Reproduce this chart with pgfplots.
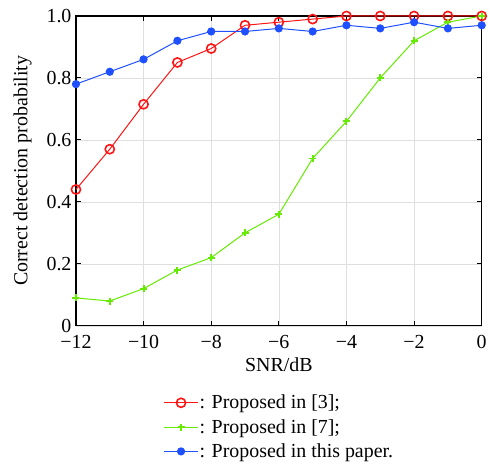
\documentclass[border=0pt]{standalone}
\usepackage{fontspec}
\setmainfont{Liberation Serif}
\usepackage{pgfplots}
\pgfplotsset{compat=1.18}
\definecolor{cred}{RGB}{255,20,20}
\definecolor{cgreen}{RGB}{100,235,0}
\definecolor{cblue}{RGB}{30,80,255}

\begin{document}
\begin{tikzpicture}
\begin{axis}[
    name=ax,
    scale only axis,
    width=406bp, height=310bp,
    xmin=-12, xmax=0, ymin=0, ymax=1,
    xtick={-12,-10,...,0},
    xticklabels={−12,−10,−8,−6,−4,−2,0},
    ytick={0,0.2,...,1.0},
    yticklabels={0,0.2,0.4,0.6,0.8,1.0},
    tick align=inside,
    major tick length=5bp,
    grid=major,
    grid style={gray!25, line width=0.6pt},
    axis line style={line width=1.2pt},
    tick style={black, line width=1pt},
    font=\fontsize{20}{24}\selectfont,
    tick label style={font=\fontsize{20}{24}\selectfont},
    yticklabel style={xshift=-1bp},
    xticklabel style={yshift=-6bp},
    xlabel={SNR/dB},
    ylabel={Correct detection probability},
    xlabel style={yshift=-2bp},
    ylabel style={yshift=8bp},
    legend style={at={(0.5,-0.22)}, anchor=north, draw=none, fill=none,
        cells={anchor=west}, row sep=7bp, inner sep=0pt,
        nodes={inner xsep=1pt, inner ysep=1pt},
        font=\fontsize{20}{24}\selectfont},
    legend image code/.code={\draw[mark repeat=2,mark phase=2]
        plot coordinates {(0cm,0cm)(0.6cm,0cm)(1.2cm,0cm)};},
]
\addplot[cred, line width=1pt, mark=o, mark size=4.6pt,
    mark options={line width=1.6pt}] coordinates {
    (-12,0.44) (-11,0.57) (-10,0.715) (-9,0.85) (-8,0.895) (-7,0.97)
    (-6,0.98) (-5,0.99) (-4,1) (-3,1) (-2,1) (-1,1) (0,1)
};
\addlegendentry{: Proposed in [3];}
\addplot[cgreen, line width=1pt, mark=+, mark size=3.5pt,
    mark options={line width=2pt}] coordinates {
    (-12,0.09) (-11,0.08) (-10,0.12) (-9,0.18) (-8,0.22) (-7,0.30)
    (-6,0.36) (-5,0.54) (-4,0.66) (-3,0.80) (-2,0.92) (-1,0.98) (0,1.0)
};
\addlegendentry{: Proposed in [7];}
\addplot[cblue, line width=1pt, mark=*, mark size=3.6pt] coordinates {
    (-12,0.78) (-11,0.82) (-10,0.86) (-9,0.92) (-8,0.95) (-7,0.95)
    (-6,0.96) (-5,0.95) (-4,0.97) (-3,0.96) (-2,0.98) (-1,0.96) (0,0.97)
};
\addlegendentry{: Proposed in this paper.}
\end{axis}
% page margins as in the reference
\path (ax.south west) ++(-76bp,0) (ax.north west) ++(0,16bp)
      (ax.south east) ++(8bp,0) (ax.south west) ++(0,-140bp);
\end{tikzpicture}
\end{document}
